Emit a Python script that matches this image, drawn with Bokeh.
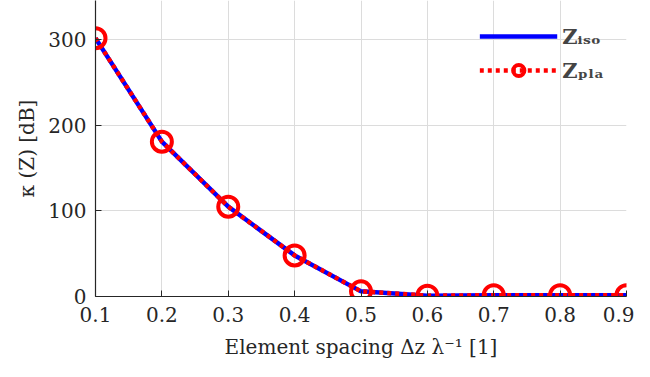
from bokeh.plotting import figure
from bokeh.models import Range1d, Legend, LegendItem, FixedTicker
from bokeh.embed import file_html
from bokeh.resources import INLINE

spacing = [0.1, 0.2, 0.3, 0.4, 0.5, 0.6, 0.7, 0.8, 0.9]
kappa_iso = [302, 181, 105, 48, 6, 1, 1.5, 1.5, 1.5]
kappa_pla = [302, 181, 105, 48, 6, 1, 1.5, 1.5, 1.5]
x_ticks = [0.1, 0.2, 0.3, 0.4, 0.5, 0.6, 0.7, 0.8, 0.9]
y_ticks = [0, 100, 200, 300]

FONT = "'DejaVu Serif', 'Liberation Serif', serif"

p = figure(width=634, height=361, output_backend="svg", toolbar_location=None,
           x_range=Range1d(0.1, 0.9), y_range=Range1d(0, 346),
           min_border_left=95, min_border_right=8, min_border_top=0, min_border_bottom=0)
p.outline_line_color = None
p.background_fill_color = "white"

for ax in (p.xaxis[0], p.yaxis[0]):
    ax.axis_line_color = "#262626"
    ax.axis_line_width = 1.2
    ax.major_tick_line_color = "#262626"
    ax.major_tick_in = 6
    ax.major_tick_out = 0
    ax.minor_tick_line_color = None
    ax.major_label_text_font = FONT
    ax.major_label_text_font_size = "20px"
    ax.major_label_text_color = "#262626"
    ax.axis_label_text_font = FONT
    ax.axis_label_text_font_size = "20px"
    ax.axis_label_text_font_style = "normal"
    ax.axis_label_text_color = "#262626"

p.xaxis.ticker = FixedTicker(ticks=x_ticks)
p.yaxis.ticker = FixedTicker(ticks=y_ticks)
p.xaxis.major_label_standoff = 10
p.yaxis.major_label_standoff = 9
p.xaxis.axis_label = "Element spacing Δz λ⁻¹ [1]"
p.yaxis.axis_label = "κ (Z) [dB]"
p.xaxis.axis_label_standoff = 10
p.yaxis.axis_label_standoff = 6

p.xgrid.grid_line_color = "#dcdcdc"
p.ygrid.grid_line_color = "#dcdcdc"
p.xgrid.grid_line_width = 1
p.ygrid.grid_line_width = 1

l_iso = p.line(spacing, kappa_iso, line_color="#0000ff", line_width=4.5)
l_pla = p.line(spacing, kappa_pla, line_color="#ff0000", line_width=4.5, line_dash="4 4")
m_pla = p.scatter(spacing, kappa_pla, marker="circle", size=20, fill_color=None,
                  line_color="#ff0000", line_width=4)

legend = Legend(items=[
    LegendItem(label="Zᵢₛₒ", renderers=[l_iso]),
    LegendItem(label="Zₚₗₐ", renderers=[l_pla, m_pla]),
], location="top_right")
legend.border_line_color = None
legend.background_fill_alpha = 0
legend.label_text_font = FONT
legend.label_text_font_size = "21px"
legend.label_text_font_style = "bold"
legend.glyph_width = 78
legend.glyph_height = 28
legend.label_height = 28
legend.spacing = 6
legend.margin = 22
legend.padding = 6
p.add_layout(legend)

open("out.html", "w").write(file_html(p, INLINE))
